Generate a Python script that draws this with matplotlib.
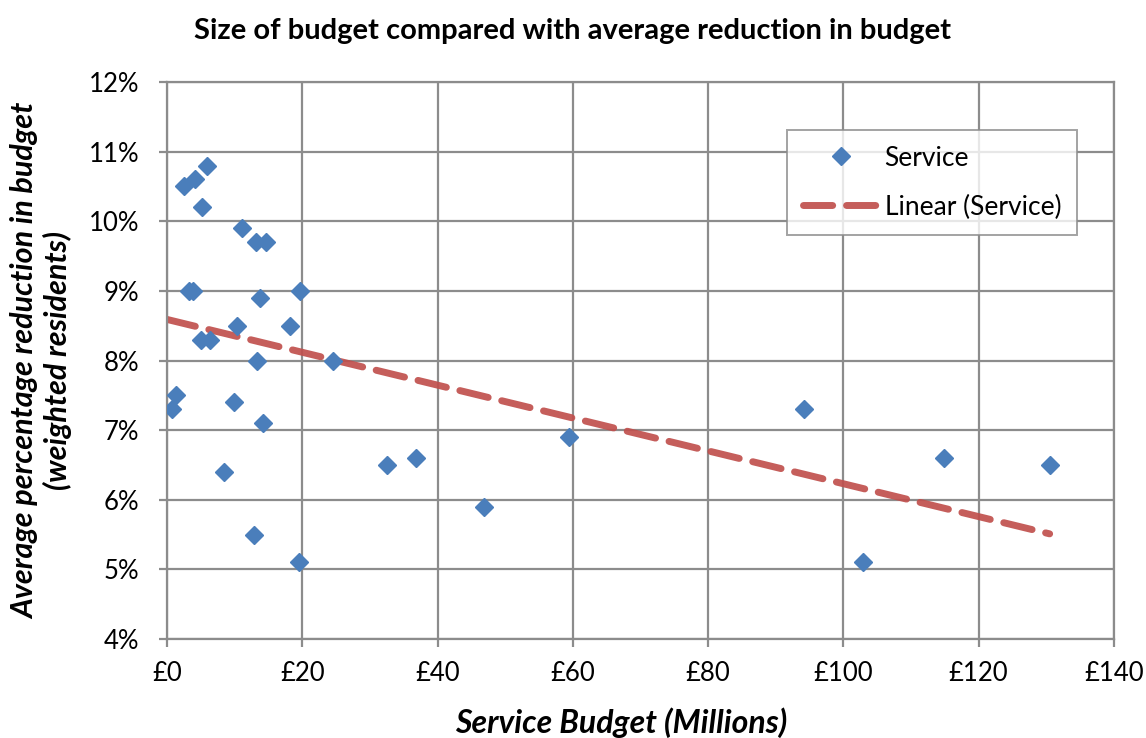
import numpy as np
import matplotlib.pyplot as plt
from matplotlib.ticker import FuncFormatter, MultipleLocator

plt.rcParams['font.family'] = ['Lato', 'DejaVu Sans']

# service budget (£ millions) and average reduction (%)
budget = [5.9, 4.1, 2.5, 5.2, 11.1, 13.1, 14.7, 3.2, 3.8, 13.7, 19.6,
          10.3, 18.2, 5.0, 6.3, 13.3, 24.6, 1.3, 0.7, 9.9, 14.2,
          8.5, 12.9, 19.5, 32.5, 36.8, 46.9, 59.4, 94.2, 102.9, 114.9, 130.5]
reduction = [10.8, 10.6, 10.5, 10.2, 9.9, 9.7, 9.7, 9.0, 9.0, 8.9, 9.0,
             8.5, 8.5, 8.3, 8.3, 8.0, 8.0, 7.5, 7.3, 7.4, 7.1,
             6.4, 5.5, 5.1, 6.5, 6.6, 5.9, 6.9, 7.3, 5.1, 6.6, 6.5]

blue = '#4a7ebb'
red = '#c0504d'
grid = '#8c8c8c'

fig = plt.figure(figsize=(11.46, 7.38), dpi=100)
ax = fig.add_axes([0.1457, 0.1341, 0.8263, 0.7548])

x = np.array(budget)
y = np.array(reduction)
slope, icpt = np.polyfit(x, y, 1)
xl = np.array([0, x.max()])

ax.plot(x, y, 'D', color=blue, markersize=9, label='Service', zorder=3)
ax.plot(xl, slope * xl + icpt, color=red, lw=5, ls=(0, (4.2, 2.0)),
        label='Linear (Service)', zorder=2, alpha=0.92,
        dash_capstyle='round')

ax.set_xlim(0, 140)
ax.set_ylim(4, 12)
ax.xaxis.set_major_locator(MultipleLocator(20))
ax.yaxis.set_major_locator(MultipleLocator(1))
ax.xaxis.set_major_formatter(FuncFormatter(lambda v, p: f'£{v:.0f}'))
ax.yaxis.set_major_formatter(FuncFormatter(lambda v, p: f'{v:.0f}%'))
ax.grid(True, color=grid, lw=1.6)
ax.set_axisbelow(True)
for s in ax.spines.values():
    s.set_color(grid)
    s.set_linewidth(1.6)
ax.tick_params(axis='both', colors=grid, length=6, width=1.6, labelsize=18.5,
               labelcolor='black')
ax.tick_params(axis='y', pad=14)
ax.tick_params(axis='x', pad=10)

fig.text(0.5, 0.958, 'Size of budget compared with average reduction in budget',
         ha='center', va='center', fontsize=21, fontweight='bold')
ax.set_xlabel('Service Budget (Millions)', fontsize=23, fontweight='bold',
              style='italic')
ax.xaxis.set_label_coords(0.48, -0.122)
ax.set_ylabel('Average percentage reduction in budget\n(weighted residents)',
              fontsize=22, fontweight='bold', style='italic', labelpad=12,
              linespacing=1.15)

leg = ax.legend(loc='upper right', bbox_to_anchor=(0.961, 0.914), fontsize=19,
                frameon=True, fancybox=False, edgecolor=grid, borderpad=0.6,
                handlelength=2.9, handletextpad=0.2, labelspacing=0.9,
                borderaxespad=0)
leg.get_frame().set_linewidth(1.4)

fig.savefig('out.png', dpi=100)
